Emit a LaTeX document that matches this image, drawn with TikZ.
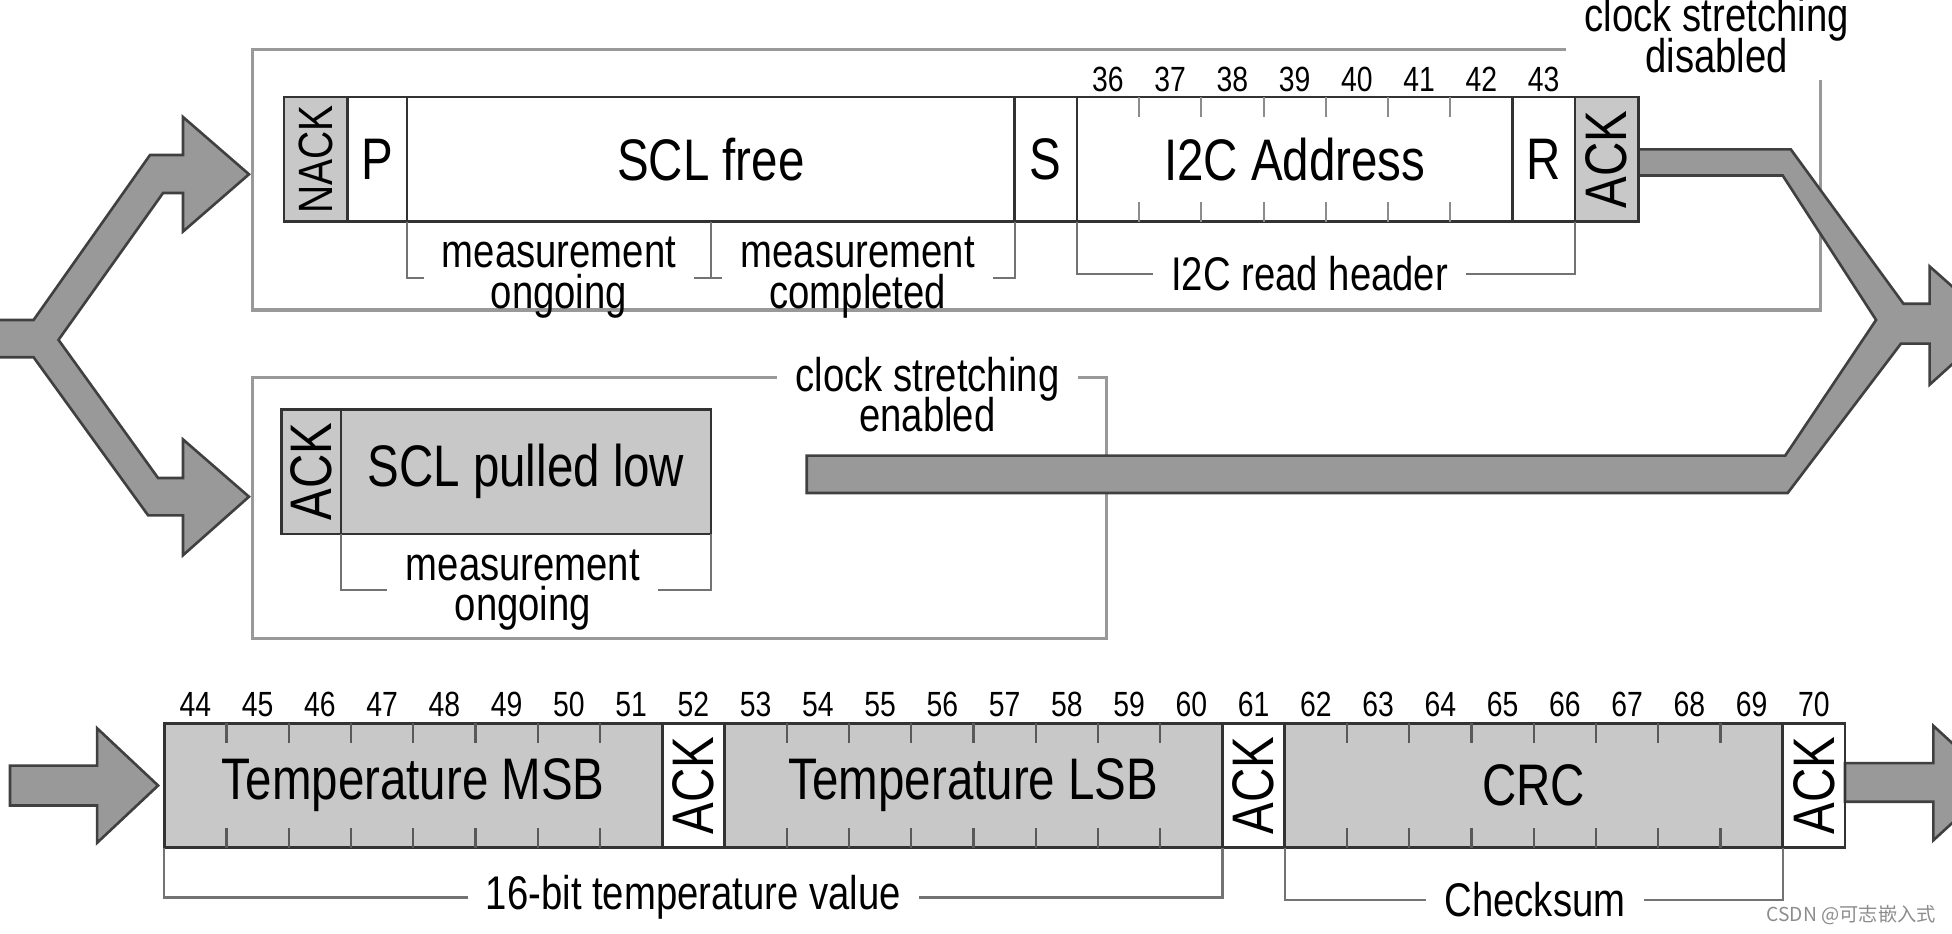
\documentclass[tikz,border=0pt]{standalone}
\usepackage{graphicx}
\usepackage{fontspec}
\setmainfont{Liberation Sans}[FakeStretch=0.81]
\newfontfamily\cjkfont{Noto Sans CJK SC}
\usetikzlibrary{positioning}

\definecolor{cellgray}{RGB}{200,200,200}
\definecolor{arrowgray}{RGB}{153,153,153}

\newcommand\bigfont{\fontsize{13.4}{15}\selectfont}
\newcommand\midfont{\fontsize{10.8}{9.3}\selectfont\lineskiplimit=-20pt\relax}
\newcommand\bitfont{\fontsize{8}{9}\selectfont}
\newcommand\acklabel{\rotatebox{90}{ACK}}

\begin{document}
\begin{tikzpicture}[
  cell/.style={draw=black!80,line width=.6pt,minimum height=1cm,inner sep=0pt,outer sep=0pt,font=\bigfont},
  ackcell/.style={cell,minimum width=5mm},
  bitno/.style={font=\bitfont,inner sep=0pt},
  tick/.style={draw=black!65,line width=.5pt},
  brk/.style={draw=black!55,line width=.5pt},
  brktext/.style={font=\midfont,align=center,inner xsep=4pt,inner ysep=1.5pt},
  frame/.style={draw=black!40,line width=.7pt},
  bigarrow/.style={fill=arrowgray,draw=black!75,line width=.6pt,line join=miter}
]
\useasboundingbox (0,0) rectangle (15.68,7.5);
\clip (0,0) rectangle (15.68,7.5);

% labels of the two frames
\node[brktext] at (13.79,7.22) (csdis) {clock stretching\\disabled};
\node[brktext] at (7.45,4.33) (csen) {clock stretching\\enabled};

% frame: clock stretching disabled
\coordinate (f1nw) at (2.03,7.10);
\coordinate (f1se) at (14.62,5.01);
\draw[frame] (csdis.west |- f1nw) -- (f1nw) |- (f1se) -- (f1se |- csdis.south);

% frame: clock stretching enabled
\coordinate (f2nw) at (2.03,4.47);
\coordinate (f2se) at (8.89,2.37);
\draw[frame] (csen.west |- f2nw) -- (f2nw) |- (f2se) -- (f2se |- f2nw) -- (csen.east |- f2nw);

% fork on the left
\draw[bigarrow] (-.05,4.93) -- (.27,4.93) -- (1.205,6.255) -- (1.47,6.255) -- (1.47,6.56) -- (2.00,6.10)
  -- (1.47,5.64) -- (1.47,5.95) -- (1.31,5.95) -- (.47,4.77) -- (1.27,3.66) -- (1.47,3.66) -- (1.47,3.97)
  -- (2.00,3.51) -- (1.47,3.04) -- (1.47,3.36) -- (1.19,3.36) -- (.27,4.63) -- (-.05,4.63) -- cycle;

% merge on the right
\draw[bigarrow] (13.16,6.30) -- (14.385,6.30) -- (15.29,5.06) -- (15.50,5.06) -- (15.50,5.36) -- (16.03,4.89)
  -- (15.50,4.41) -- (15.50,4.74) -- (15.27,4.74) -- (14.36,3.54) -- (6.48,3.54) -- (6.48,3.84)
  -- (14.34,3.84) -- (15.07,4.93) -- (14.32,6.09) -- (13.16,6.09) -- cycle;

% arrows of the data row
\draw[bigarrow] (.08,1.35) -- (.78,1.35) -- (.78,1.65) -- (1.27,1.19) -- (.78,.73) -- (.78,1.03) -- (.08,1.03) -- cycle;
\draw[bigarrow] (14.82,1.37) -- (15.53,1.37) -- (15.53,1.67) -- (16.03,1.21) -- (15.53,.75) -- (15.53,1.06) -- (14.82,1.06) -- cycle;

% read header row
\node[cell,fill=cellgray,minimum width=5.1mm,anchor=west,font=\fontsize{11}{12}\selectfont] at (2.28,6.22) (nack) {\rotatebox{90}{NACK}};
\node[cell,minimum width=4.8mm,right=0pt of nack] (p) {P};
\node[cell,minimum width=48.8mm,right=0pt of p] (sclfree) {SCL free};
\node[cell,minimum width=5mm,right=0pt of sclfree] (s) {S};
\node[cell,minimum width=35mm,right=0pt of s] (addr) {I2C Address};
\node[cell,minimum width=5mm,right=0pt of addr] (r) {R};
\node[cell,fill=cellgray,minimum width=5.1mm,right=0pt of r] (ack1) {\acklabel};

\foreach \i in {1,...,6}
  \draw[tick,draw=black!45] ([xshift=\i*5mm]addr.north west) -- ++(0,-1.6mm)
    ([xshift=\i*5mm]addr.south west) -- ++(0,1.6mm);
\foreach \n in {36,...,43}
  \node[bitno] (b\n) at ({8.9+(\n-36)*.5},6.86) {\n};

% measurement brackets
\node[brktext] at (4.49,5.27) (ongo) {measurement\\ongoing};
\node[brktext] at (6.89,5.27) (compl) {measurement\\completed};
\coordinate (mdiv) at (5.71,5.72);
\draw[brk] (sclfree.south west) |- (ongo.west) (ongo.east) -- (compl.west) (compl.east) -| (sclfree.south east);
\draw[brk] (mdiv) -- (mdiv |- ongo.west);

% I2C read header
\node[brktext] at (10.52,5.30) (rdhdr) {I2C read header};
\draw[brk] (addr.south west) |- (rdhdr.west) (rdhdr.east) -| (r.south east);

% SCL pulled low
\node[cell,fill=cellgray,minimum width=4.8mm,anchor=west] at (2.26,3.71) (ack2) {\acklabel};
\node[cell,fill=cellgray,minimum width=29.7mm,right=0pt of ack2] (low) {SCL pulled low};
\node[brktext] at (4.20,2.76) (ongo2) {measurement\\ongoing};
\draw[brk] (low.south west) |- (ongo2.west) (ongo2.east) -| (low.south east);

% data row
\node[cell,fill=cellgray,minimum width=40mm,anchor=west] at (1.32,1.19) (msb) {Temperature MSB};
\node[ackcell,right=0pt of msb] (ack3) {\acklabel};
\node[cell,fill=cellgray,minimum width=40mm,right=0pt of ack3] (lsb) {Temperature LSB};
\node[ackcell,right=0pt of lsb] (ack4) {\acklabel};
\node[cell,fill=cellgray,minimum width=40mm,right=0pt of ack4] (crc) {CRC};
\node[ackcell,right=0pt of crc] (ack5) {\acklabel};

\foreach \b in {msb,lsb,crc}
  \foreach \i in {1,...,7}
    \draw[tick] ([xshift=\i*5mm]\b.north west) -- ++(0,-1.6mm)
      ([xshift=\i*5mm]\b.south west) -- ++(0,1.6mm);
\foreach \n in {44,...,70}
  \node[bitno] (b\n) at ({1.57+(\n-44)*.5},1.84) {\n};

\node[brktext] at (5.57,.29) (tval) {16-bit temperature value};
\draw[brk] (msb.south west) |- (tval.west) (tval.east) -| (lsb.south east);
\node[brktext] at (12.33,.27) (cks) {Checksum};
\draw[brk] (crc.south west) |- (cks.west) (cks.east) -| (crc.south east);

\node[font=\fontsize{4.4}{5}\selectfont\cjkfont,text=black!45,inner sep=0pt] at (14.87,.15) (wm) {CSDN @可志嵌入式};

\end{tikzpicture}
\end{document}
